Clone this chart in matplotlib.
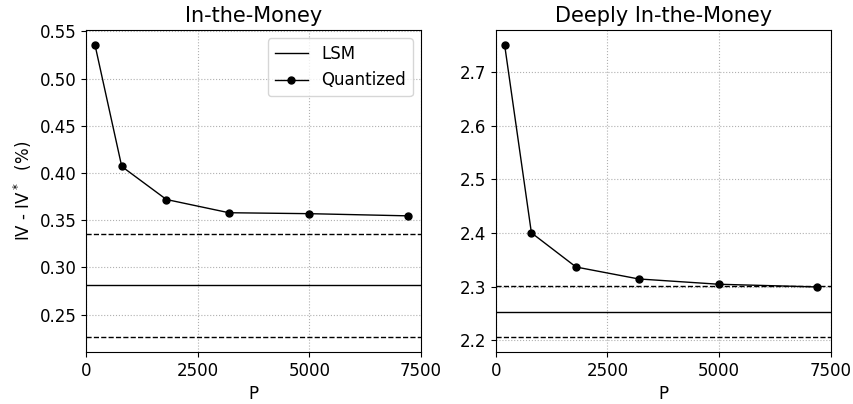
import matplotlib
matplotlib.use('Agg')
import matplotlib.pyplot as plt

# sample sizes
P = [200, 800, 1800, 3200, 5000, 7200]

# In-the-Money
itm_quant = [0.536, 0.407, 0.372, 0.358, 0.357, 0.3547]
itm_lsm = 0.2813
itm_lsm_band = [0.226, 0.336]

# Deeply In-the-Money
ditm_quant = [2.7507, 2.4003, 2.3366, 2.3144, 2.3045, 2.2995]
ditm_lsm = 2.2525
ditm_lsm_band = [2.2056, 2.3007]

titles = ['In-the-Money', 'Deeply In-the-Money']

fig = plt.figure(figsize=(8.54, 4.04), dpi=100)
ax1 = fig.add_axes([0.1007, 0.1287, 0.3923, 0.797])
ax2 = fig.add_axes([0.5804, 0.1287, 0.3923, 0.797])

panels = [(ax1, itm_quant, itm_lsm, itm_lsm_band),
          (ax2, ditm_quant, ditm_lsm, ditm_lsm_band)]

for i, (ax, quant, lsm, band) in enumerate(panels):
    ax.axhline(lsm, color='black', lw=1, label='LSM')
    for b in band:
        ax.axhline(b, color='black', lw=1, ls='--')
    ax.plot(P, quant, color='black', lw=1, marker='o', ms=5, label='Quantized')
    ax.set_xlim(0, 7500)
    ax.set_xticks([0, 2500, 5000, 7500])
    ax.grid(True, ls=':', color='#b0b0b0', lw=0.8)
    ax.set_xlabel('P', fontsize=12)
    ax.set_title(titles[i], fontsize=15)
    ax.tick_params(labelsize=12)

ax1.set_yticks([0.25, 0.30, 0.35, 0.40, 0.45, 0.50, 0.55])
ax1.set_ylabel('IV - IV$^*$  (%)', fontsize=12)
ax1.legend(loc='upper right', fontsize=12)

fig.savefig('out.png', dpi=100)
